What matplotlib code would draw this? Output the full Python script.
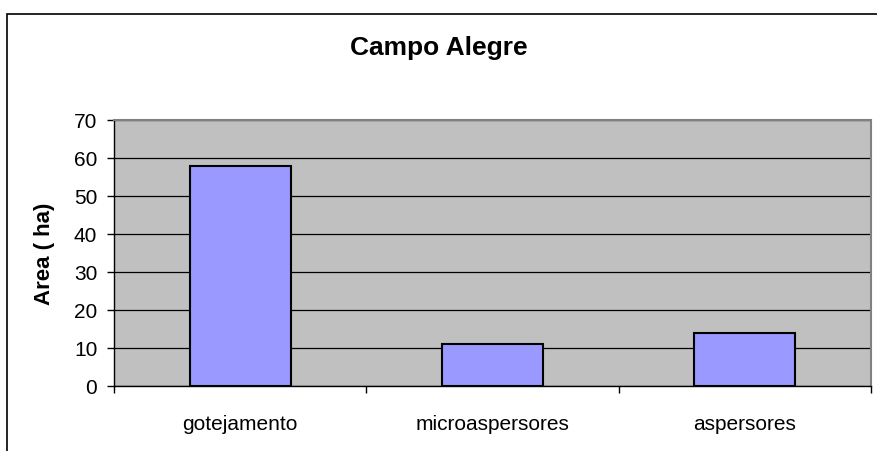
"""
Campo Alegre: irrigated area by irrigation system.
"""
import matplotlib.pyplot as plt
from matplotlib.patches import Rectangle

categories = ['gotejamento', 'microaspersores', 'aspersores']
area_ha = [58, 11, 14]
y_ticks = [0, 10, 20, 30, 40, 50, 60, 70]

plt.rcParams['font.family'] = ['Liberation Sans', 'DejaVu Sans']

W, H = 878, 452
fig = plt.figure(figsize=(W / 100, H / 100), dpi=100)

# outer chart frame
fig.patches.append(Rectangle((7 / W, -0.05), 1.1, (H - 15) / H + 0.05,
                             transform=fig.transFigure, fill=False,
                             edgecolor='black', linewidth=1.2))

ax = fig.add_axes([114 / W, 1 - 387 / H, (871 - 114) / W, (387 - 121) / H])
ax.set_facecolor('#c0c0c0')

x = range(len(categories))
ax.bar(x, area_ha, width=0.4, color='#9999ff', edgecolor='black',
       linewidth=1.5, zorder=3)

ax.set_xlim(-0.5, len(categories) - 0.5)
ax.set_ylim(0, 70)
ax.set_yticks(y_ticks)
ax.yaxis.grid(True, color='black', linewidth=0.9, zorder=1)
ax.set_axisbelow(True)

ax.set_xticks([i - 0.5 for i in range(len(categories) + 1)])
ax.set_xticklabels([])
ax.set_xticks(list(x), minor=True)
ax.set_xticklabels(categories, minor=True, fontsize=15)
ax.tick_params(axis='x', which='minor', length=0, pad=20)
ax.tick_params(axis='x', which='major', length=5, width=1, color='black')
ax.tick_params(axis='y', length=5, width=1, labelsize=15, pad=7)

for side in ('top', 'right'):
    ax.spines[side].set_color('#808080')
    ax.spines[side].set_linewidth(1.5)
for side in ('left', 'bottom'):
    ax.spines[side].set_color('black')
    ax.spines[side].set_linewidth(1)

ax.set_ylabel('Area ( ha)', fontsize=16, fontweight='bold')
ax.yaxis.set_label_coords((55 - 114) / (871 - 114), 0.5)
fig.text(0.5, 1 - 55 / H, 'Campo Alegre', ha='center', va='baseline',
         fontsize=19, fontweight='bold')

fig.savefig('out.png', dpi=100)
